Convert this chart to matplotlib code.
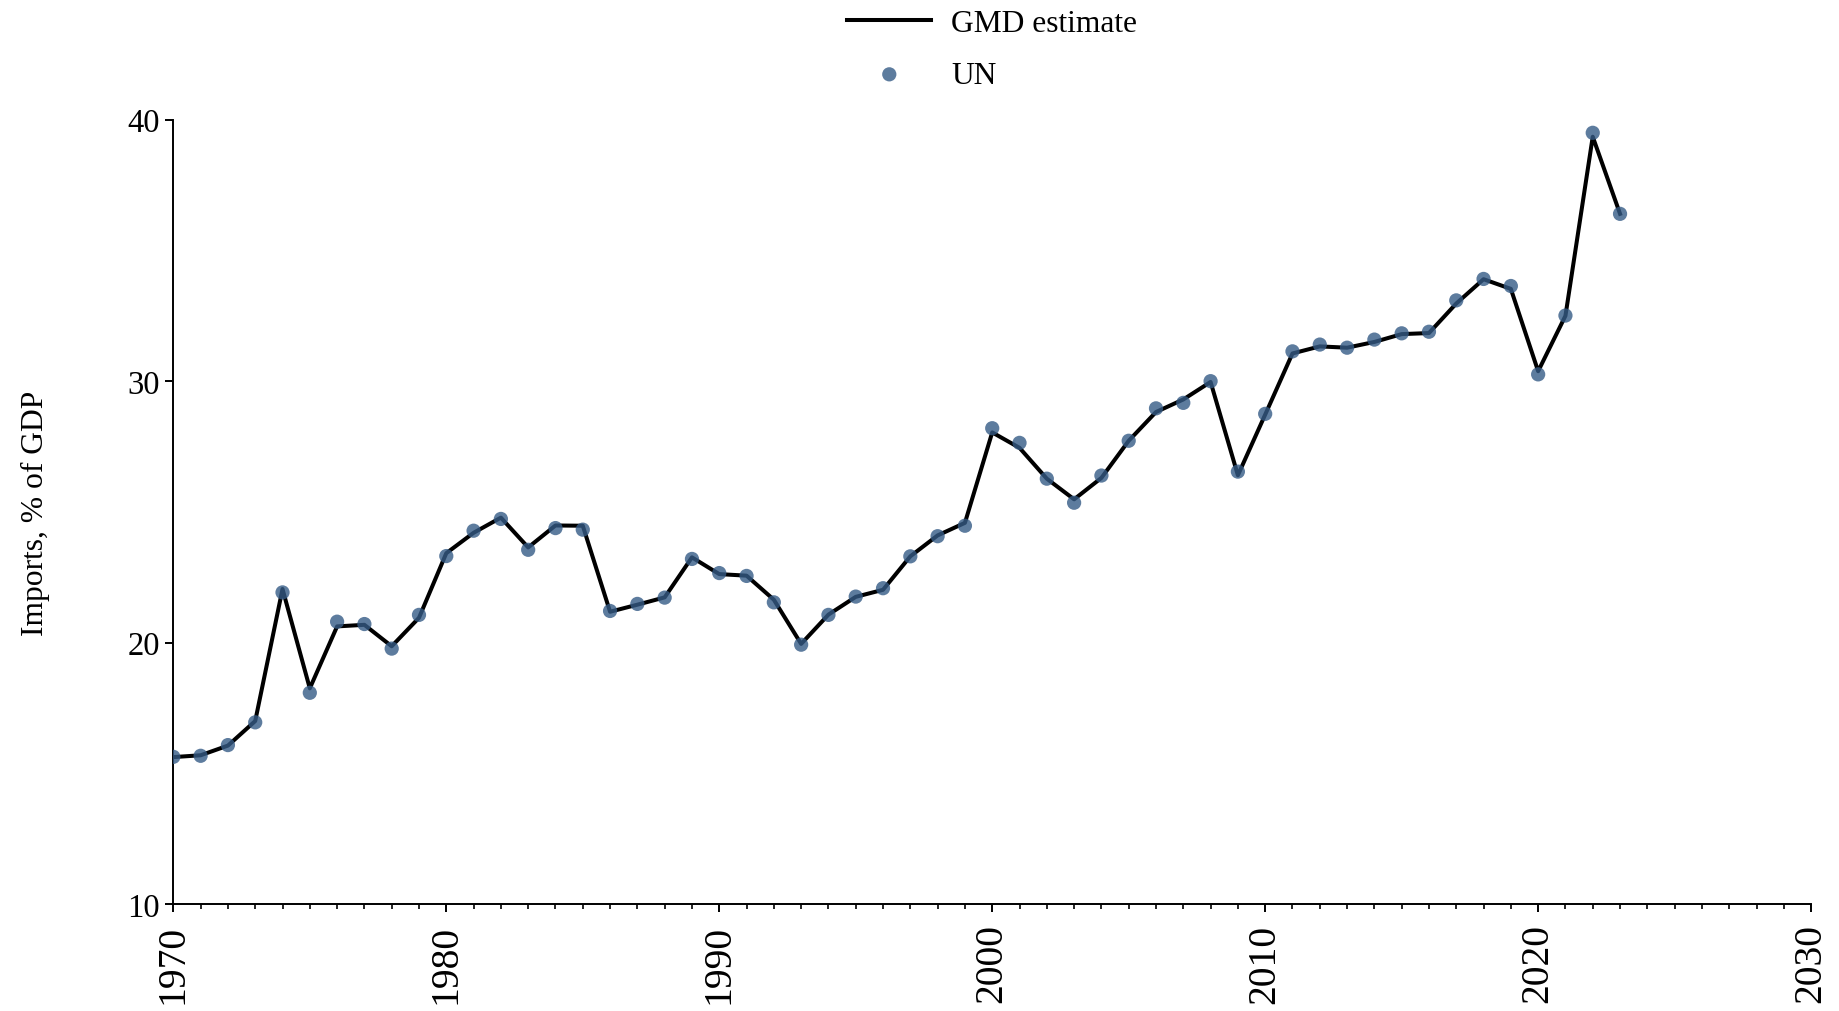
import numpy as np
import matplotlib
matplotlib.use("Agg")
import matplotlib.pyplot as plt
from matplotlib.ticker import MultipleLocator

# data (imports, % of GDP)
years = list(range(1970, 2024))

gmd_estimate = [
    15.62, 15.69, 16.06, 17.00, 22.05, 18.25, 20.62, 20.68, 19.86, 20.95,
    23.42, 24.20, 24.78, 23.64, 24.48, 24.47, 21.18, 21.45, 21.73, 23.26,
    22.62, 22.56, 21.64, 19.95, 21.07, 21.75, 22.02, 23.30, 24.10, 24.58,
    28.04, 27.45, 26.27, 25.48, 26.30, 27.72, 28.82, 29.30, 29.97, 26.40,
    28.72, 31.06, 31.33, 31.28, 31.50, 31.80, 31.84, 32.97, 33.90, 33.53,
    30.38, 32.50, 39.35, 36.40,
]

un_values = [
    15.63, 15.67, 16.08, 16.95, 21.92, 18.08, 20.80, 20.71, 19.77, 21.06,
    23.31, 24.28, 24.73, 23.55, 24.38, 24.32, 21.21, 21.48, 21.72, 23.20,
    22.66, 22.55, 21.54, 19.92, 21.06, 21.76, 22.08, 23.30, 24.07, 24.47,
    28.20, 27.64, 26.27, 25.35, 26.39, 27.72, 28.96, 29.17, 30.00, 26.54,
    28.75, 31.14, 31.40, 31.28, 31.59, 31.83, 31.89, 33.09, 33.91, 33.64,
    30.26, 32.51, 39.50, 36.40,
]

x_ticks = [1970, 1980, 1990, 2000, 2010, 2020, 2030]
y_ticks = [10, 20, 30, 40]

plt.rcParams['font.family'] = ['Liberation Serif', 'DejaVu Serif']
plt.rcParams['font.size'] = 22.7

fig = plt.figure(figsize=(18.4, 10.12), dpi=100)
ax = fig.add_axes([0.0942, 0.1057, 0.8901, 0.775])

# line first, dots on top
ax.plot(years, gmd_estimate, color='black', lw=2.9, label='GMD estimate', zorder=2)
ax.scatter(years, un_values, s=105, color='#355b86', alpha=0.8,
           edgecolors='none', label='UN', zorder=3)

ax.set_xlim(1970, 2030)
ax.set_ylim(10, 40)
ax.set_xticks(x_ticks)
ax.set_yticks(y_ticks)
ax.xaxis.set_minor_locator(MultipleLocator(1))
ax.tick_params(axis='x', labelrotation=90, pad=8, labelsize=28.5)
ax.tick_params(axis='y', labelsize=23.5)
ax.tick_params(which='major', direction='out', length=6, width=1.4)
ax.tick_params(which='minor', direction='out', length=3.6, width=1.2)

for side in ['top', 'right']:
    ax.spines[side].set_visible(False)
for side in ['left', 'bottom']:
    ax.spines[side].set_linewidth(1.4)

ax.set_ylabel('Imports, % of GDP', labelpad=56)

# legend centered over the axes, at the very top of the figure
ax.legend(loc='upper center',
          bbox_to_anchor=(0.0942 + 0.8901 / 2, 1 + 6 / 1012),
          bbox_transform=fig.transFigure, frameon=False, borderpad=0,
          handlelength=2.66, handletextpad=0.63, labelspacing=0.72)

fig.savefig('out.png', dpi=100)
